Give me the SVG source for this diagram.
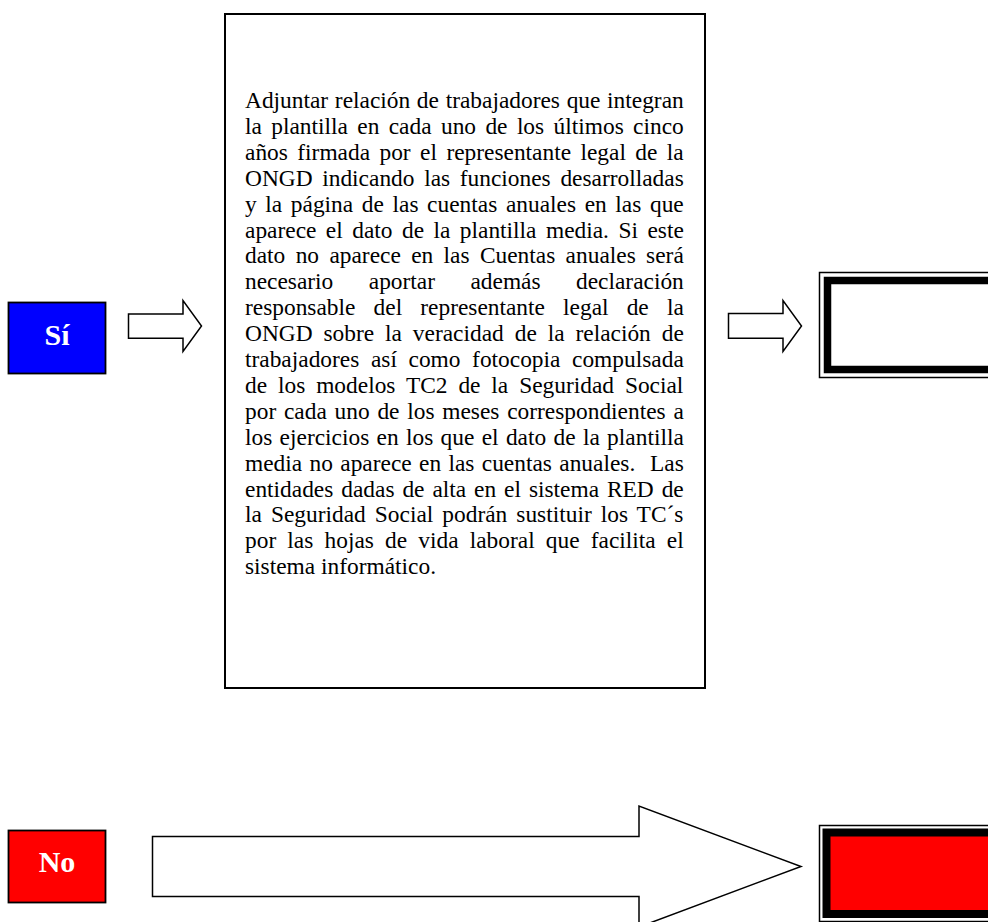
<svg xmlns="http://www.w3.org/2000/svg" width="988" height="922" viewBox="0 0 988 922">
<style>
.outline{fill:#fff;stroke:#000;stroke-width:1.5}
.body{font-family:"Liberation Serif","Times New Roman",serif;font-size:23.4px;fill:#000}
.lbl{font-family:"Liberation Serif","Times New Roman",serif;font-size:30px;font-weight:bold;fill:#fff;text-anchor:middle}
.thin{fill:#fff;stroke:#000;stroke-width:1.5}
</style>
<rect width="988" height="922" fill="#fff"/>
<g id="si">
<rect x="8.5" y="302.5" width="97" height="71" fill="#0000ff" stroke="#000" stroke-width="1.8"/>
<text class="lbl" x="57" y="345">Sí</text>
</g>
<g id="no">
<rect x="8.5" y="830.5" width="97" height="72" fill="#ff0000" stroke="#000" stroke-width="1.8"/>
<text class="lbl" x="57" y="872">No</text>
</g>
<g id="texto">
<rect x="225" y="14" width="480" height="674" fill="#fff" stroke="#000" stroke-width="2"/>
<text class="body" x="245" y="108" word-spacing="0.85">Adjuntar relación de trabajadores que integran</text>
<text class="body" x="245" y="133.9" word-spacing="3.53">la plantilla en cada uno de los últimos cinco</text>
<text class="body" x="245" y="159.8" word-spacing="3.58">años firmada por el representante legal de la</text>
<text class="body" x="245" y="185.7" word-spacing="3.82">ONGD indicando las funciones desarrolladas</text>
<text class="body" x="245" y="211.6" word-spacing="2.78">y la página de las cuentas anuales en las que</text>
<text class="body" x="245" y="237.5" word-spacing="3.62">aparece el dato de la plantilla media. Si este</text>
<text class="body" x="245" y="263.4" word-spacing="4.51">dato no aparece en las Cuentas anuales será</text>
<text class="body" x="245" y="289.3" word-spacing="29.6">necesario aportar además declaración</text>
<text class="body" x="245" y="315.2" word-spacing="12.29">responsable del representante legal de la</text>
<text class="body" x="245" y="341.1" word-spacing="5.07">ONGD sobre la veracidad de la relación de</text>
<text class="body" x="245" y="367" word-spacing="5.77">trabajadores así como fotocopia compulsada</text>
<text class="body" x="245" y="392.9" word-spacing="5.05">de los modelos TC2 de la Seguridad Social</text>
<text class="body" x="245" y="418.8" word-spacing="1.91">por cada uno de los meses correspondientes a</text>
<text class="body" x="245" y="444.7" word-spacing="1.48">los ejercicios en los que el dato de la plantilla</text>
<text class="body" x="245" y="470.6" word-spacing="1.51" xml:space="preserve">media no aparece en las cuentas anuales.  Las</text>
<text class="body" x="245" y="496.5" word-spacing="2.07">entidades dadas de alta en el sistema RED de</text>
<text class="body" x="245" y="522.4" word-spacing="3.19">la Seguridad Social podrán sustituir los TC´s</text>
<text class="body" x="245" y="548.3" word-spacing="5.32">por las hojas de vida laboral que facilita el</text>
<text class="body" x="245" y="574.2">sistema informático.</text>
</g>
<g id="resultado-si">
<rect x="819.5" y="272.5" width="200" height="105" class="thin"/>
<rect x="827.5" y="280.5" width="200" height="89" fill="#fff" stroke="#000" stroke-width="7.5"/>
</g>
<g id="resultado-no">
<rect x="819.5" y="825.5" width="200" height="96" class="thin"/>
<rect x="826.5" y="832.5" width="200" height="81.5" fill="#ff0000" stroke="#000" stroke-width="8"/>
</g>
<g id="conectores">
<polygon class="outline" points="128.5,314 183,314 183,300.5 201.5,326 183,351.5 183,338.3 128.5,338.3"/>
<polygon class="outline" points="728.5,313.5 783,313.5 783,300.5 801.5,326 783,351.5 783,338.3 728.5,338.3"/>
<polygon class="outline" points="152.5,836.5 639,836.5 639,806 801,866.5 639,927 639,896.5 152.5,896.5"/>
</g>
</svg>
